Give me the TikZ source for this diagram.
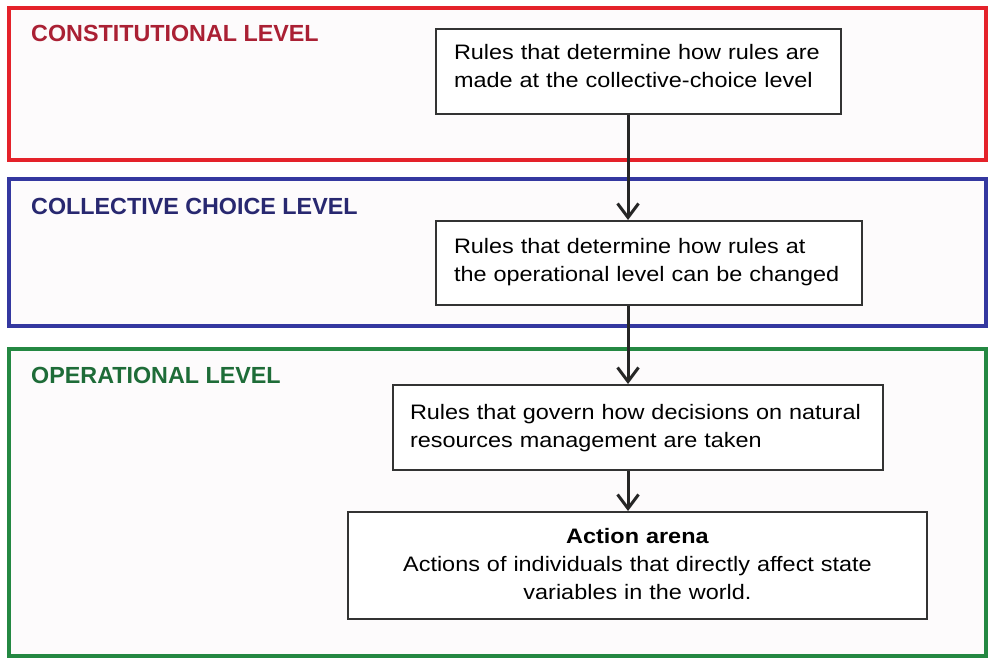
\documentclass[tikz,border=0pt]{standalone}
\usepackage{fontspec}
\setmainfont{Liberation Sans}
\newfontfamily\boxfont{Liberation Sans}[FakeStretch=1.12]
\usetikzlibrary{arrows.meta}
\definecolor{redframe}{RGB}{228,34,42}
\definecolor{redtext}{RGB}{170,32,52}
\definecolor{blueframe}{RGB}{52,56,160}
\definecolor{bluetext}{RGB}{40,40,112}
\definecolor{greenframe}{RGB}{36,136,66}
\definecolor{greentext}{RGB}{30,108,56}
\definecolor{framebg}{RGB}{253,251,252}
\begin{document}
\begin{tikzpicture}[x=1bp,y=-1bp,
  levelframe/.style={line width=4bp,fill=framebg},
  leveltitle/.style={anchor=west,inner sep=0pt,font=\fontsize{23.4}{28}\selectfont\bfseries},
  rulebox/.style={draw=black!80,line width=2bp,fill=white,inner xsep=18bp,inner ysep=0pt,
    font=\boxfont\fontsize{21}{28}\selectfont,align=left},
  flow/.style={line width=3bp,draw=black!85,-{Straight Barb[length=14bp,width=21bp,line width=3bp]}}]
\useasboundingbox (0,0) rectangle (989,659);
\fill[white] (0,0) rectangle (989,659);
% level frames
\draw[levelframe,draw=redframe] (9,8) rectangle (986,160);
\draw[levelframe,draw=blueframe] (9,179) rectangle (986,326);
\draw[levelframe,draw=greenframe] (9,349) rectangle (986,656);
% titles
\node[leveltitle,text=redtext] (tconst) at (31,33.5) {CONSTITUTIONAL LEVEL};
\node[leveltitle,text=bluetext] (tcoll) at (31,206.5) {COLLECTIVE CHOICE LEVEL};
\node[leveltitle,text=greentext] (toper) at (31,375) {OPERATIONAL LEVEL};
% rule boxes
\node[rulebox,minimum width=405bp,minimum height=85bp,text width=369bp] (b1) at (638.5,71.5)
  {Rules that determine how rules are\\made at the collective-choice level\\[-17bp]\mbox{}};
\node[rulebox,minimum width=426bp,minimum height=84bp,text width=390bp] (b2) at (649,263)
  {Rules that determine how rules at\\the operational level can be changed\\[-22bp]\mbox{}};
\node[rulebox,minimum width=490bp,minimum height=85bp,text width=456bp,inner xsep=17bp] (b3) at (638,427.5)
  {Rules that govern how decisions on natural\\resources management are taken\\[-24bp]\mbox{}};
\node[rulebox,minimum width=579bp,minimum height=107bp,text width=543bp,align=center] (b4) at (637.5,565.5)
  {\textbf{Action arena}\\Actions of individuals that directly affect state\\variables in the world.\\[-24bp]\mbox{}};
% connectors
\draw[flow] (b1.south -| 628,0) -- (b2.north -| 628,0);
\draw[flow] (b2.south -| 628,0) -- (b3.north -| 628,0);
\draw[flow] (b3.south -| 628,0) -- (b4.north -| 628,0);
\end{tikzpicture}
\end{document}
